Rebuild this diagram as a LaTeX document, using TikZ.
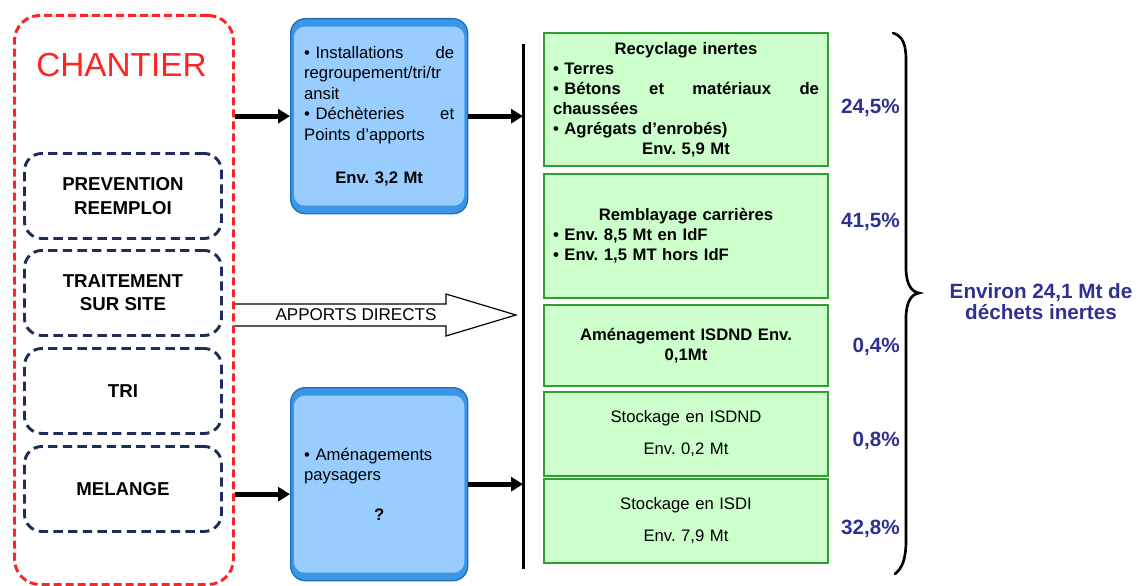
\documentclass[tikz,border=0pt]{standalone}
\usepackage{fontspec}
\setmainfont{Liberation Sans}
\usetikzlibrary{arrows.meta}
\frenchspacing
\definecolor{redd}{HTML}{FF2424}
\definecolor{navyd}{HTML}{1F2D5C}
\definecolor{navyt}{HTML}{2E3192}
\definecolor{bluelight}{HTML}{99CCFF}
\definecolor{bluemid}{HTML}{3D95E6}
\definecolor{bluedark}{HTML}{1A6FC0}
\definecolor{greenfill}{HTML}{CCFFCC}
\definecolor{greenline}{HTML}{2FA02F}
\newcommand\gfont{\fontsize{12.5pt}{15pt}\selectfont}
\newcommand\bfontx{\fontsize{12.5pt}{15.4pt}\selectfont}
\newcommand\nfont{\fontsize{14pt}{17.5pt}\selectfont}
\newcommand\pfont{\fontsize{15.5pt}{18pt}\selectfont}
\newcommand\efont{\fontsize{15.5pt}{15.8pt}\selectfont}
\newcommand\cfont{\fontsize{25pt}{30pt}\selectfont}
\newcommand\afont{\fontsize{12.8pt}{15pt}\selectfont}
\newcommand\ctr[1]{\makebox[\hsize][c]{#1}}
\begin{document}
\frenchspacing
\begin{tikzpicture}[x=0.75pt,y=-0.75pt,
  chantierbox/.style={draw=redd, line width=2.2pt, dash pattern=on 6pt off 3pt,
    rounded corners=19pt, minimum width=164.25pt, minimum height=426.75pt,
    anchor=north west, inner sep=0pt},
  navybox/.style={draw=navyd, line width=2.2pt, dash pattern=on 7pt off 4pt,
    rounded corners=13pt, minimum width=147.75pt, minimum height=63.75pt,
    anchor=north west, align=center, font=\nfont\bfseries, inner sep=0pt},
  bluebox/.style={draw=bluedark, line width=1pt, fill=bluemid, rounded corners=11pt,
    minimum width=132.75pt, anchor=north west, text width=112.5pt, align=left,
    inner sep=0pt, font=\bfontx,
    path picture={\fill[bluelight, rounded corners=8pt]
      ([xshift=2.5pt,yshift=-6pt]path picture bounding box.north west) rectangle
      ([xshift=-2.5pt,yshift=6pt]path picture bounding box.south east);}},
  greenbox/.style={draw=greenline, line width=1.5pt, fill=greenfill,
    minimum width=213pt, anchor=north west, text width=199.5pt, align=left,
    inner sep=0pt, font=\gfont},
  thickarrow/.style={line width=3.5pt, -{Triangle[length=9pt,width=10.5pt]}},
  pct/.style={font=\pfont\bfseries, text=navyt, inner sep=0pt, anchor=east}
]
\useasboundingbox (0,0) rectangle (1137,585);

% CHANTIER column
\node[chantierbox] (chantier) at (13,14) {};
\node[font=\cfont, text=redd, inner sep=0pt] (chtitle) at (121.5,65) {CHANTIER};
\node[navybox] (n1) at (23,152) {PREVENTION\\REEMPLOI};
\node[navybox] (n2) at (23,249) {TRAITEMENT\\SUR SITE};
\node[navybox] (n3) at (23,347) {TRI};
\node[navybox] (n4) at (23,445) {MELANGE};

% blue boxes
\node[bluebox, minimum height=146.25pt] (b1) at (290,18)
  {\textbullet\ Installations\hfill de\\
   regroupement/tri/tr\\
   ansit\\
   \textbullet\ Déchèteries\hfill et\\
   Points d’apports\\[17pt]
   \ctr{\textbf{Env. 3,2 Mt}}};
\node[bluebox, minimum height=144.75pt] (b2) at (290,387)
  {\textbullet\ Aménagements\\
   paysagers\\[14pt]
   \ctr{\textbf{?}}};

% vertical collector line
\coordinate (vtop) at (523,44);
\coordinate (vbot) at (523,569);
\draw[line width=2.25pt] (vtop) -- (vbot);

% arrows
\draw[thickarrow] (chantier.east |- b1.west) -- (b1.west);
\draw[thickarrow] (b1.east) -- (b1.east -| vtop);
\coordinate (m2) at ([yshift=-7.5pt]b2.west);
\draw[thickarrow] (chantier.east |- m2) -- (m2);
\draw[thickarrow] (b2.east) -- (b2.east -| vtop);

% apports directs hollow arrow
\node[font=\afont, inner sep=0pt] (ad) at (356,315) {APPORTS DIRECTS};
\coordinate (adstart) at (chantier.east |- ad);
\draw[line width=0.9pt, line join=miter] (adstart) ++(0,-11) -- ++(211,0) -- ++(0,-10)
  -- ++(70,21) -- ++(-70,21) -- ++(0,-10) -- ++(-211,0);

% green boxes
\node[greenbox, minimum height=99.75pt, font=\gfont\bfseries] (g1) at (543,32)
  {\ctr{Recyclage inertes}\\
   \textbullet\ Terres\\
   \textbullet\ Bétons\hfill et\hfill matériaux\hfill de\\
   chaussées\\
   \textbullet\ Agrégats d’enrobés)\\
   \ctr{Env. 5,9 Mt}};
\node[greenbox, minimum height=93pt, font=\gfont\bfseries] (g2) at (543,173)
  {\ctr{Remblayage carrières}\\
   \textbullet\ Env. 8,5 Mt en IdF\\
   \textbullet\ Env. 1,5 MT hors IdF};
\node[greenbox, minimum height=60.75pt, font=\gfont\bfseries, align=center] (g3) at (543,304)
  {Aménagement ISDND Env.\\0,1Mt};
\node[greenbox, minimum height=63pt, align=center] (g4) at (543,391)
  {Stockage en ISDND\\[9pt]Env. 0,2 Mt};
\node[greenbox, minimum height=63pt, align=center] (g5) at (543,478)
  {Stockage en ISDI\\[9pt]Env. 7,9 Mt};

% percentages
\node[pct] (p1) at (900,108) {24,5\%};
\node[pct] (p2) at (900,222) {41,5\%};
\node[pct] (p3) at (900,347) {0,4\%};
\node[pct] (p4) at (900,441) {0,8\%};
\node[pct] (p5) at (900,529) {32,8\%};

% brace
\draw[line width=2pt, line cap=round] (893,33) .. controls (903,36) and (906,45) .. (906,60)
  -- (906,268) .. controls (906,285) and (912,292) .. (919,293)
  .. controls (912,294) and (906,301) .. (906,318)
  -- (906,540) .. controls (906,560) and (902,568) .. (895,574);

% total
\node[font=\efont\bfseries, text=navyt, align=center, inner sep=0pt] (tot) at (1041,302)
  {Environ 24,1 Mt de\\déchets inertes};
\end{tikzpicture}
\end{document}
